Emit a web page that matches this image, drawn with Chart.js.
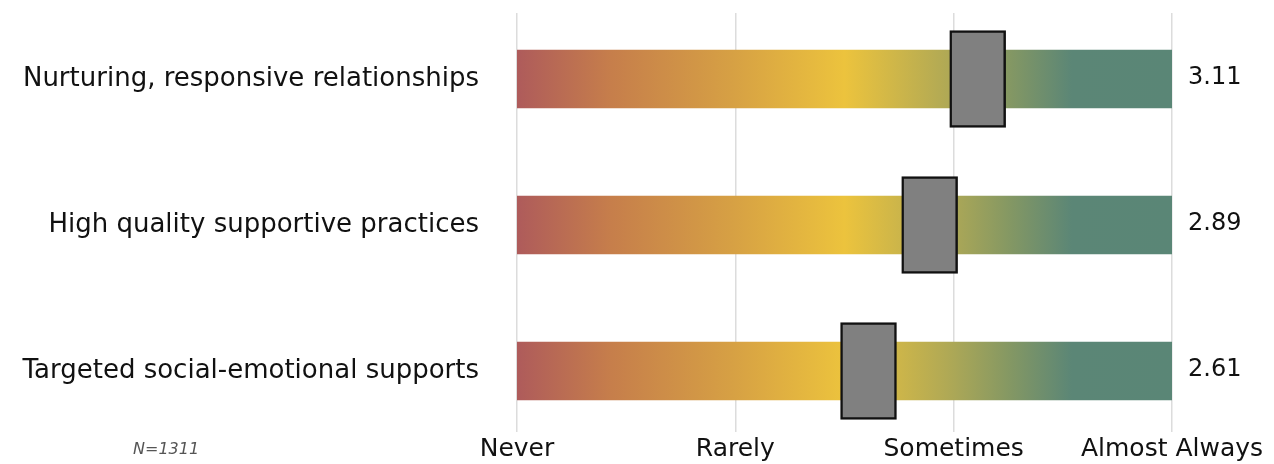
<!DOCTYPE html>
<html>
<head>
<meta charset="utf-8">
<title>Practice frequency</title>
<script src="https://cdn.jsdelivr.net/npm/chart.js@4/dist/chart.umd.min.js"></script>
<style>
  html, body { margin: 0; padding: 0; background: #fff; }
  #wrap { width: 1274px; height: 464px; position: relative; }
</style>
</head>
<body>
<div id="wrap"><canvas id="chart"></canvas></div>
<script>
// Average frequency rating per practice area (1 = Never ... 4 = Almost Always)
const categories = [
  'Nurturing, responsive relationships',
  'High quality supportive practices',
  'Targeted social-emotional supports'
];
const scores = [3.11, 2.89, 2.61];
const scaleLabels = ['Never', 'Rarely', 'Sometimes', 'Almost Always'];
const sampleNote = 'N=1311';

const scaleMin = 1;
const scaleMax = scaleLabels.length;
const FONT = '"DejaVu Sans", "Open Sans", sans-serif';
const MARKER_HALF = 0.128; // half the marker width, in scale units

// red -> yellow -> teal ramp along the rating scale
const rampStops = [
  [0.000, '#ae5b5b'],
  [0.143, '#c67e4b'],
  [0.327, '#d6a044'],
  [0.500, '#ecc33d'],
  [0.657, '#b0a955'],
  [0.750, '#859863'],
  [0.847, '#5b8676'],
  [1.000, '#5a8676']
];

let rampCache = null;
function rampFill(context) {
  const chart = context.chart;
  const area = chart.chartArea;
  if (!area) return '#d6a044';
  const xs = chart.scales.x;
  const x0 = xs.getPixelForValue(scaleMin);
  const x1 = xs.getPixelForValue(scaleMax);
  const key = x0 + ':' + x1;
  if (rampCache && rampCache.key === key) return rampCache.grad;
  const g = chart.ctx.createLinearGradient(x0, 0, x1, 0);
  rampStops.forEach(([p, c]) => g.addColorStop(p, c));
  rampCache = { key, grad: g };
  return g;
}

// score text to the right of each bar, and the sample size note
const annotations = {
  id: 'annotations',
  afterDatasetsDraw(chart) {
    const { ctx, chartArea, scales } = chart;
    ctx.save();
    ctx.fillStyle = '#111';
    ctx.font = '24px ' + FONT;
    ctx.textAlign = 'left';
    ctx.textBaseline = 'middle';
    scores.forEach((s, i) => {
      ctx.fillText(s.toFixed(2), chartArea.right + 16, scales.y.getPixelForValue(i) - 1);
    });
    ctx.font = 'italic 16px ' + FONT;
    ctx.fillStyle = '#555';
    ctx.textBaseline = 'alphabetic';
    ctx.fillText(sampleNote, 133, 454);
    ctx.restore();
  }
};

const rows = categories.map((_, i) => i);

new Chart(document.getElementById('chart'), {
  type: 'bar',
  data: {
    datasets: [
      {
        label: 'marker',
        data: rows.map(i => ({ y: i, x: [scores[i] - MARKER_HALF, scores[i] + MARKER_HALF] })),
        backgroundColor: '#808080',
        borderColor: '#111',
        borderWidth: 2.5,
        borderSkipped: false,
        barThickness: 97,
        grouped: false,
        order: 0
      },
      {
        label: 'scale',
        data: rows.map(i => ({ y: i, x: [scaleMin, scaleMax] })),
        backgroundColor: rampFill,
        borderWidth: 0,
        barThickness: 58,
        grouped: false,
        order: 1
      }
    ]
  },
  options: {
    indexAxis: 'y',
    responsive: true,
    maintainAspectRatio: false,
    animation: false,
    layout: { padding: { top: 13, right: 102, bottom: 0, left: 0 } },
    plugins: {
      legend: { display: false },
      tooltip: { enabled: false }
    },
    scales: {
      x: {
        type: 'linear',
        min: scaleMin,
        max: scaleMax,
        ticks: {
          stepSize: 1,
          padding: 2,
          color: '#111',
          font: { family: FONT, size: 25 },
          callback: v => scaleLabels[v - scaleMin] || ''
        },
        grid: { color: '#dcdcdc', lineWidth: 1.5, drawTicks: false },
        border: { display: false },
        afterFit: axis => { axis.height = 32; }
      },
      y: {
        type: 'linear',
        offset: false,
        reverse: true,
        min: -0.452,
        max: 2.418,
        afterBuildTicks: axis => { axis.ticks = rows.map(v => ({ value: v })); },
        ticks: {
          padding: 30,
          color: '#111',
          font: { family: FONT, size: 26 },
          callback: v => categories[v]
        },
        grid: { display: false },
        border: { display: false },
        afterFit: axis => {
          axis.width = 517;
          axis.paddingTop = 0;
          axis.paddingBottom = 0;
        }
      }
    }
  },
  plugins: [annotations]
});
</script>
</body>
</html>
